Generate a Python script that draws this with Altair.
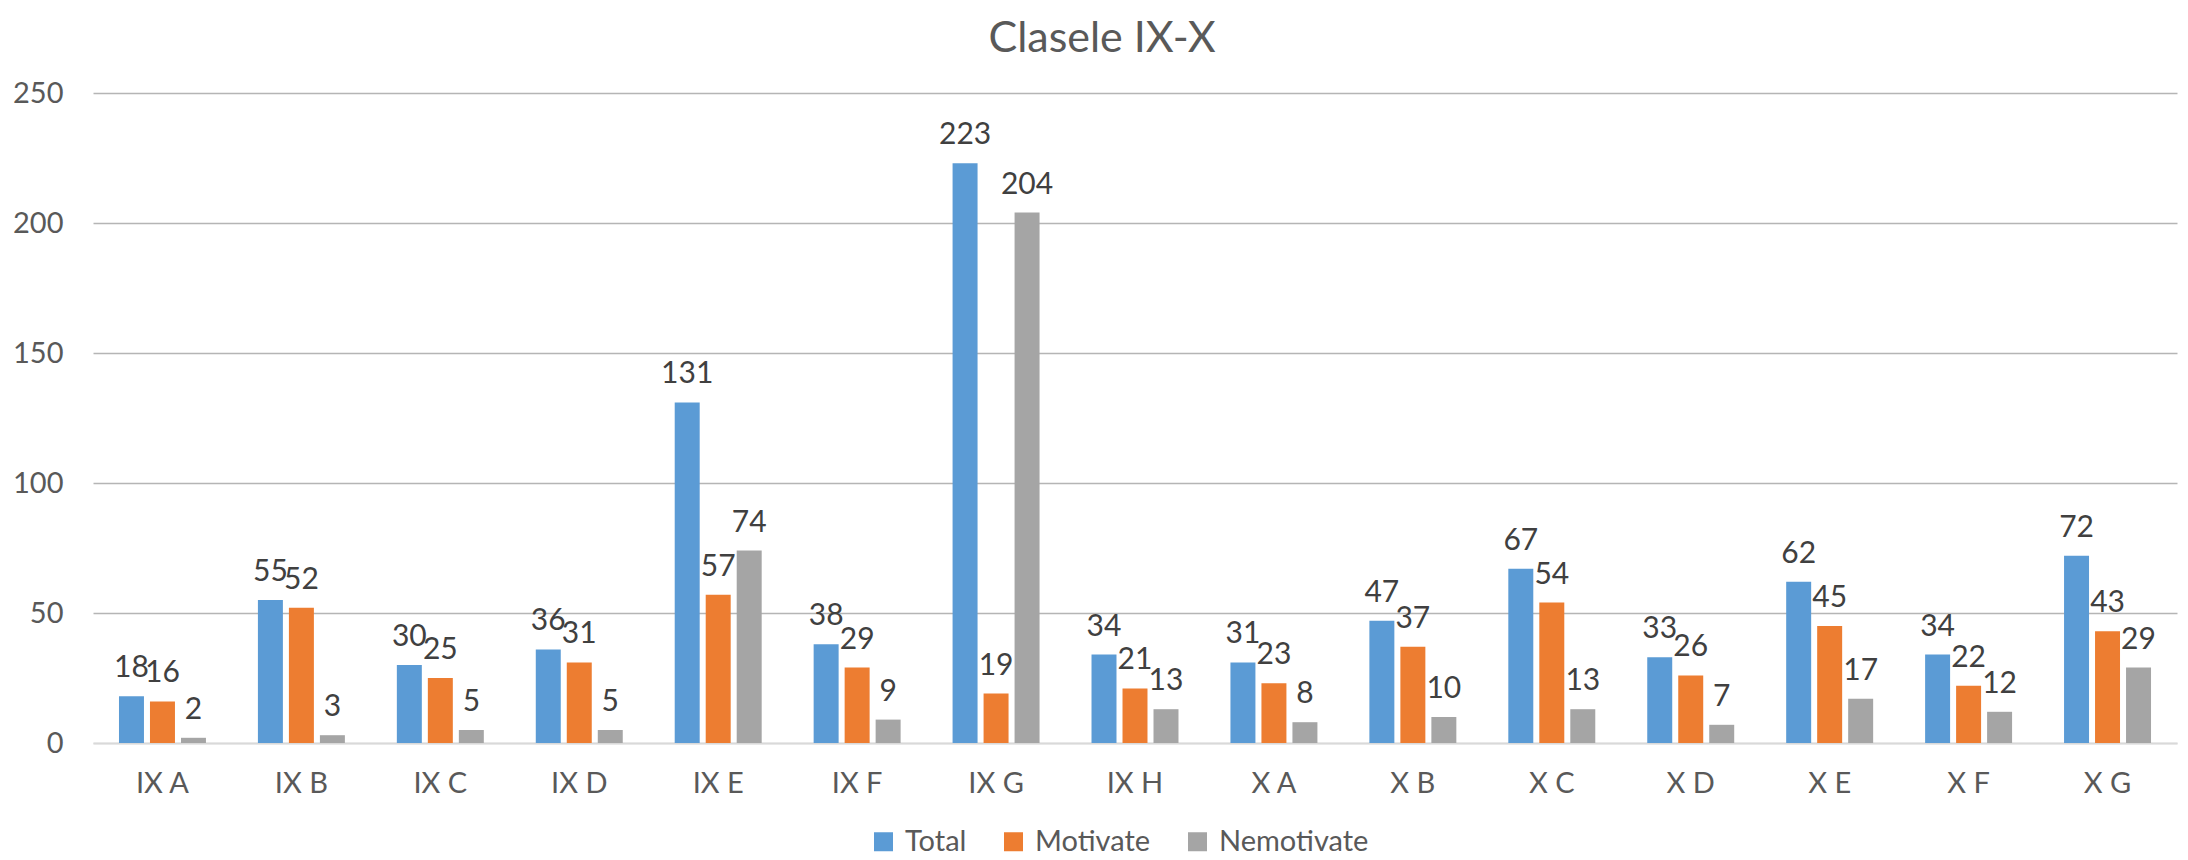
import altair as alt
import pandas as pd

categories = ["IX A", "IX B", "IX C", "IX D", "IX E", "IX F", "IX G", "IX H",
              "X A", "X B", "X C", "X D", "X E", "X F", "X G"]
series = ["Total", "Motivate", "Nemotivate"]
total = [18, 55, 30, 36, 131, 38, 223, 34, 31, 47, 67, 33, 62, 34, 72]
motivate = [16, 52, 25, 31, 57, 29, 19, 21, 23, 37, 54, 26, 45, 22, 43]
nemotivate = [2, 3, 5, 5, 74, 9, 204, 13, 8, 10, 13, 7, 17, 12, 29]
colors = ["#5B9BD5", "#ED7D31", "#A5A5A5"]
y_ticks = [0, 50, 100, 150, 200, 250]

rows = []
for name, vals in zip(series, [total, motivate, nemotivate]):
    for c, v in zip(categories, vals):
        rows.append({"Clasa": c, "Serie": name, "Valoare": v})
df = pd.DataFrame(rows)

FONT = "Lato"

x = alt.X("Clasa:N", sort=categories, title=None,
          scale=alt.Scale(paddingInner=0.374, paddingOuter=0.187),
          axis=alt.Axis(labelAngle=0, ticks=False, labelPadding=26, labelFontSize=29,
                        labelColor="#595959", labelFont=FONT,
                        domainColor="#d9d9d9", domainWidth=2))
xo = alt.XOffset("Serie:N", sort=series,
                 scale=alt.Scale(domain=series, paddingInner=0.194, paddingOuter=0))
y = alt.Y("Valoare:Q", title=None,
          scale=alt.Scale(domain=[0, 250], nice=False),
          axis=alt.Axis(values=y_ticks, ticks=False, domain=False, labelPadding=30,
                        labelFontSize=29, labelColor="#595959", labelFont=FONT,
                        gridColor={"condition": {"test": "datum.value === 0", "value": "#d9d9d9"}, "value": "#b5b5b5"},
                        gridWidth=1.5))

base = alt.Chart(df)

bars = base.mark_bar().encode(
    x=x, xOffset=xo, y=y,
    color=alt.Color("Serie:N", sort=series,
                    scale=alt.Scale(domain=series, range=colors),
                    legend=alt.Legend(title=None, orient="none", direction="horizontal",
                                      legendX=776, legendY=734, columns=3,
                                      symbolType="square", symbolSize=361,
                                      symbolStrokeWidth=0,
                                      labelFontSize=29, labelColor="#595959",
                                      labelFont=FONT, labelOffset=7,
                                      columnPadding=32, padding=0)),
)

labels = base.mark_text(baseline="alphabetic", dy=-19, fontSize=30,
                        color="#404040", font=FONT).encode(
    x=x, xOffset=xo, y=y, text=alt.Text("Valoare:Q"),
)

chart = alt.layer(bars, labels).properties(
    width=2084, height=650,
    title=alt.TitleParams("Clasele IX-X", fontSize=43, color="#595959",
                          font=FONT, fontWeight="normal", anchor="middle",
                          dx=-33, dy=-14),
    autosize=alt.AutoSizeParams(type="none"),
    padding={"left": 85, "top": 85, "right": 3, "bottom": 117},
).configure_view(stroke=None)

chart.save("out.html", embed_options={"renderer": "svg", "actions": False})
